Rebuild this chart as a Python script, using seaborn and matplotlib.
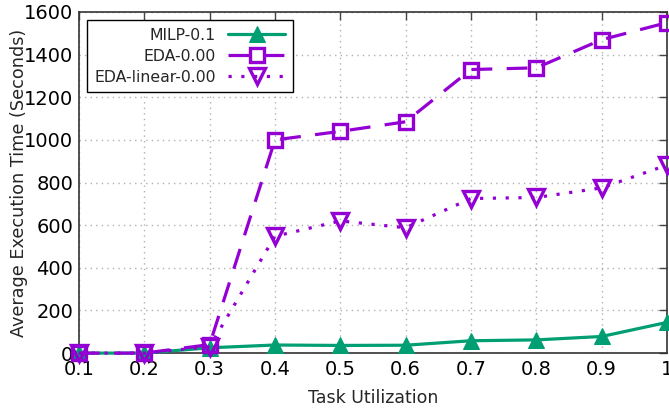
import matplotlib
matplotlib.use("Agg")
import matplotlib.pyplot as plt
import seaborn as sns
import pandas as pd

utilization = [0.1, 0.2, 0.3, 0.4, 0.5, 0.6, 0.7, 0.8, 0.9, 1.0]
milp = [0, 0, 25, 38, 36, 37, 58, 62, 78, 144]
eda = [0, 0, 40, 1000, 1040, 1085, 1330, 1338, 1470, 1550]
eda_linear = [0, 0, 30, 548, 620, 588, 725, 730, 775, 882]
x_ticks = [0.1, 0.2, 0.3, 0.4, 0.5, 0.6, 0.7, 0.8, 0.9, 1.0]
x_tick_labels = ["0.1", "0.2", "0.3", "0.4", "0.5", "0.6", "0.7", "0.8", "0.9", "1"]
y_ticks = [0, 200, 400, 600, 800, 1000, 1200, 1400, 1600]

sns.set_style("white")
plt.rcParams['font.family'] = ['DejaVu Sans']

green = "#009E73"
purple = "#9400D3"

fig = plt.figure(figsize=(6.69, 4.13), dpi=100)
ax = fig.add_axes([0.118, 0.145, 0.879, 0.826])

df = pd.DataFrame({"u": utilization, "milp": milp, "eda": eda, "lin": eda_linear})

sns.lineplot(data=df, x="u", y="milp", ax=ax, color=green, lw=2.3,
             marker="^", markersize=11, markeredgecolor=green, markerfacecolor=green,
             label="MILP-0.1", clip_on=False, zorder=3)
sns.lineplot(data=df, x="u", y="eda", ax=ax, color=purple, lw=2.3,
             marker="s", markersize=10, markeredgecolor=purple, markerfacecolor="none",
             markeredgewidth=2.4, dashes=(6.5, 4.5), label="EDA-0.00", clip_on=False, zorder=4)
sns.lineplot(data=df, x="u", y="lin", ax=ax, color=purple, lw=2.3,
             marker="v", markersize=11, markeredgecolor=purple, markerfacecolor="none",
             markeredgewidth=2.4, dashes=(1.0, 3.0), label="EDA-linear-0.00", clip_on=False, zorder=4)

ax.set_xlim(0.1, 1.0)
ax.set_ylim(0, 1600)
ax.set_xticks(x_ticks)
ax.set_xticklabels(x_tick_labels)
ax.set_yticks(y_ticks)
ax.tick_params(axis="both", direction="in", length=6, width=1, labelsize=14,
               top=True, right=True, pad=4, color="#444444", labelcolor="black")
ax.tick_params(axis="x", pad=5)
ax.grid(True, linestyle=(0, (1, 3)), color="#b0b0b0", lw=1)
for s in ax.spines.values():
    s.set_color("#333333")
    s.set_linewidth(1.2)

ax.set_xlabel("Task Utilization", fontsize=12.5, labelpad=7)
ax.set_ylabel("Average Execution Time (Seconds)", fontsize=12.7)
ax.yaxis.set_label_coords(-0.086, 0.5)

leg = ax.legend(loc="upper left", bbox_to_anchor=(0.013, 0.977), borderaxespad=0,
                markerfirst=False, fontsize=11.3, handlelength=3.6, frameon=True,
                fancybox=False, borderpad=0.5, labelspacing=0.38, handletextpad=0.8)
leg.get_frame().set_edgecolor("black")
leg.get_frame().set_linewidth(1.0)
leg.get_frame().set_alpha(1.0)
for t in leg.get_texts():
    t.set_ha("right")

fig.savefig("out.png", dpi=100)
